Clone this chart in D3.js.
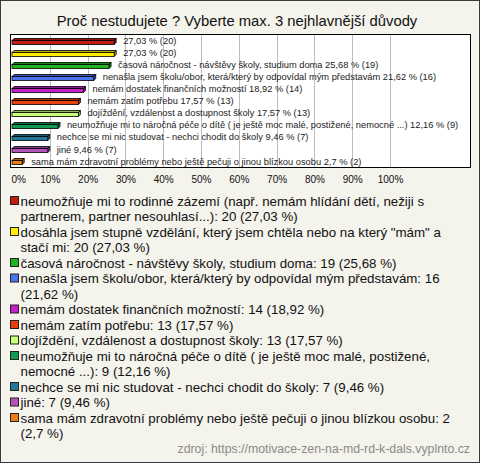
<!DOCTYPE html>
<html><head><meta charset="utf-8">
<script src="https://cdn.jsdelivr.net/npm/d3@7"></script>
<style>body{margin:0;background:#fff}svg{display:block;font-family:"Liberation Sans",Arial,sans-serif}</style>
</head><body><svg id="c" width="480" height="463"></svg>
<script>
const title = "Proč nestudujete ? Vyberte max. 3 nejhlavnější důvody";
const categories = [
  "neumožňuje mi to rodinné zázemí (např. nemám hlídání dětí, nežiji s partnerem, partner nesouhlasí...)",
  "dosáhla jsem stupně vzdělání, který jsem chtěla nebo na který \"mám\" a stačí mi",
  "časová náročnost - návštěvy školy, studium doma",
  "nenašla jsem školu/obor, která/který by odpovídal mým představám",
  "nemám dostatek finančních možností",
  "nemám zatím potřebu",
  "dojíždění, vzdálenost a dostupnost školy",
  "neumožňuje mi to náročná péče o dítě ( je ještě moc malé, postižené, nemocné ...)",
  "nechce se mi nic studovat - nechci chodit do školy",
  "jiné",
  "sama mám zdravotní problémy nebo ještě pečuji o jinou blízkou osobu"
];
const counts = [20, 20, 19, 16, 14, 13, 13, 9, 7, 7, 2];
const percents = [27.03, 27.03, 25.68, 21.62, 18.92, 17.57, 17.57, 12.16, 9.46, 9.46, 2.7];
const nameInBarLabel = [false, false, true, true, true, true, true, true, true, true, true];
const colors = ["#c41a12", "#ffee00", "#1fb51f", "#4a74ee", "#c41fc8", "#e8400c", "#c8ff78", "#129a52", "#22799a", "#b653b8", "#ec7f10"];
const ticks = [0, 10, 20, 30, 40, 50, 60, 70, 80, 90, 100];
const source = "zdroj: https://motivace-zen-na-md-rd-k-dals.vyplnto.cz";

const fmt = v => String(v).replace(".", ",");
const svg = d3.select("#c");
svg.append("rect").attr("x", 0.5).attr("y", 0.5).attr("width", 479).attr("height", 462)
  .attr("fill", "#f4f3ec").attr("stroke", "#3a3a3a");

svg.append("text").attr("x", 237).attr("y", 26).attr("text-anchor", "middle")
  .attr("font-size", 14.8).attr("fill", "#111").text(title);

const plot = {x: 10.5, y: 34.5, w: 460, h: 133};
const x = d3.scaleLinear().domain([0, 100]).range([12, 390]);
const y = d3.scaleBand().domain(d3.range(categories.length)).range([plot.y, plot.y + plot.h]);

svg.append("rect").attr("x", plot.x).attr("y", plot.y).attr("width", plot.w).attr("height", plot.h)
  .attr("fill", "#fff").attr("stroke", "#000");

svg.append("g").selectAll("line").data(ticks.slice(1)).join("line")
  .attr("x1", d => Math.round(x(d)) + 0.5).attr("x2", d => Math.round(x(d)) + 0.5)
  .attr("y1", plot.y + 0.5).attr("y2", plot.y + plot.h - 0.5)
  .attr("stroke", "#bdbdbd");

const ax = svg.append("g").attr("transform", `translate(0,${plot.y + plot.h})`)
  .call(d3.axisBottom(x).tickValues(ticks).tickFormat(d => d + "%").tickSize(0).tickPadding(8));
ax.select(".domain").remove();
ax.selectAll("text").attr("font-size", 10).attr("fill", "#111").attr("font-family", "Liberation Sans, Arial, sans-serif");
ax.selectAll("text").filter(d => d === 0).attr("text-anchor", "start").attr("dx", -1);

const depth = 2, bh = 4;
const bars = svg.append("g").selectAll("g").data(categories).join("g");
bars.each(function(c, i) {
  const g = d3.select(this);
  const x0 = x(0), x1 = x(percents[i]);
  const yc = y(i) + y.bandwidth() / 2;
  const yt = Math.round(yc - bh / 2 + 1) + 0.5;
  const dark = d3.color(colors[i]).darker(0.9).formatHex();
  g.append("path").attr("d", `M${x0},${yt}L${x0 + depth},${yt - depth}L${x1 + depth},${yt - depth}L${x1},${yt}Z`)
    .attr("fill", dark).attr("stroke", "#000").attr("stroke-width", 0.8);
  g.append("path").attr("d", `M${x1},${yt}L${x1 + depth},${yt - depth}L${x1 + depth},${yt - depth + bh}L${x1},${yt + bh}Z`)
    .attr("fill", dark).attr("stroke", "#000").attr("stroke-width", 0.8);
  g.append("rect").attr("x", x0).attr("y", yt).attr("width", x1 - x0).attr("height", bh)
    .attr("fill", colors[i]).attr("stroke", "#000").attr("stroke-width", 0.8);
  const lbl = (nameInBarLabel[i] ? categories[i] + " " : "") + fmt(percents[i]) + " % (" + counts[i] + ")";
  g.append("text").attr("x", x1 + 9).attr("y", yc + 3.2).attr("font-size", 9.3)
    .attr("fill", "#222").text(lbl);
});

const lh = 15.5;
let ly = 201;
const maxW = 440;
const fs = 13.3;
const leg = svg.append("g");
categories.forEach((c, i) => {
  const full = c + ": " + counts[i] + " (" + fmt(percents[i]) + " %)";
  const words = full.split(" ");
  leg.append("rect").attr("x", 10.5).attr("y", ly - 4.5).attr("width", 8).attr("height", 8)
    .attr("fill", colors[i]).attr("stroke", "#222");
  let line = [];
  let t = leg.append("text").attr("x", 20.5).attr("y", ly + 4.6).attr("font-size", fs).attr("fill", "#111");
  words.forEach(w => {
    line.push(w);
    t.text(line.join(" "));
    if (t.node().getComputedTextLength() > maxW && line.length > 1) {
      line.pop();
      t.text(line.join(" "));
      ly += lh;
      line = [w];
      t = leg.append("text").attr("x", 20.5).attr("y", ly + 4.6).attr("font-size", fs).attr("fill", "#111").text(w);
    }
  });
  ly += lh;
});

svg.append("text").attr("x", 470).attr("y", 453).attr("text-anchor", "end")
  .attr("font-size", 12.3).attr("fill", "#8a8a8a").text(source);
</script></body></html>
